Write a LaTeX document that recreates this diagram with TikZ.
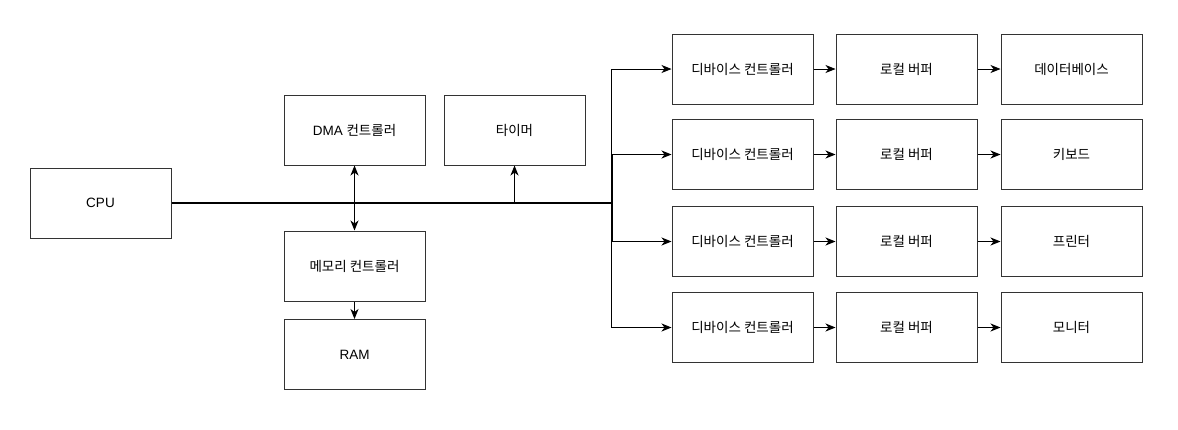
\documentclass[tikz,border=0pt]{standalone}
\usepackage{fontspec}
\setmainfont{Liberation Sans}
\newfontfamily\kr{Noto Sans CJK KR}
\usetikzlibrary{arrows.meta}
\begin{document}
\begin{tikzpicture}[x=1pt,y=-1pt,
  box/.style={draw=black!80,line width=1pt,fill=white,minimum width=141pt,minimum height=70pt,inner sep=0pt,font=\fontsize{13.5}{16}\selectfont},
  conn/.style={draw=black,line width=0.9pt,-{Stealth[length=10pt,width=8pt,inset=3pt]}},
  dconn/.style={draw=black,line width=0.9pt,{Stealth[length=10pt,width=8pt,inset=3pt]}-{Stealth[length=10pt,width=8pt,inset=3pt]}},
  bus/.style={draw=black,line width=2pt}]
\useasboundingbox (0,0) rectangle (1178,429);
\node[box] (cpu) at (100.5,203) {CPU};
\node[box] (dma) at (354.5,130) {DMA {\kr 컨트롤러}};
\node[box] (timer) at (514.5,130) {\kr 타이머};
\node[box] (mem) at (354.5,266) {\kr 메모리 컨트롤러};
\node[box] (ram) at (354.5,354.5) {RAM};
\coordinate (busR) at (611.5,203);
\coordinate (busT) at (514.5,203);
\coordinate (busTop) at (611.5,69);
\coordinate (busBot) at (611.5,327.5);
\coordinate (busM1) at (611.5,154.5);
\coordinate (busM2) at (611.5,241.5);
\foreach \i/\y/\dest in {1/69/데이터베이스,2/154.5/키보드,3/241.5/프린터,4/327.5/모니터}{
  \node[box] (dev\i) at (742.5,\y) {\kr 디바이스 컨트롤러};
  \node[box] (buf\i) at (906.5,\y) {\kr 로컬 버퍼};
  \node[box] (dst\i) at (1071.5,\y) {\kr \dest};
  \draw[conn] (dev\i) -- (buf\i);
  \draw[conn] (buf\i) -- (dst\i);
}
\draw[bus] (cpu.east) -- (busR);
\draw[draw=black,line width=0.9pt] (busTop) -- (busBot);
\draw[bus] (busM1) -- (busM2);
\foreach \i in {1,2,3,4}{
  \draw[conn] (busR) |- (dev\i.west);
}
\draw[conn] (busT) -- (timer.south);
\draw[dconn] (dma.south) -- (mem.north);
\draw[conn] (mem.south) -- (ram.north);
\end{tikzpicture}
\end{document}
